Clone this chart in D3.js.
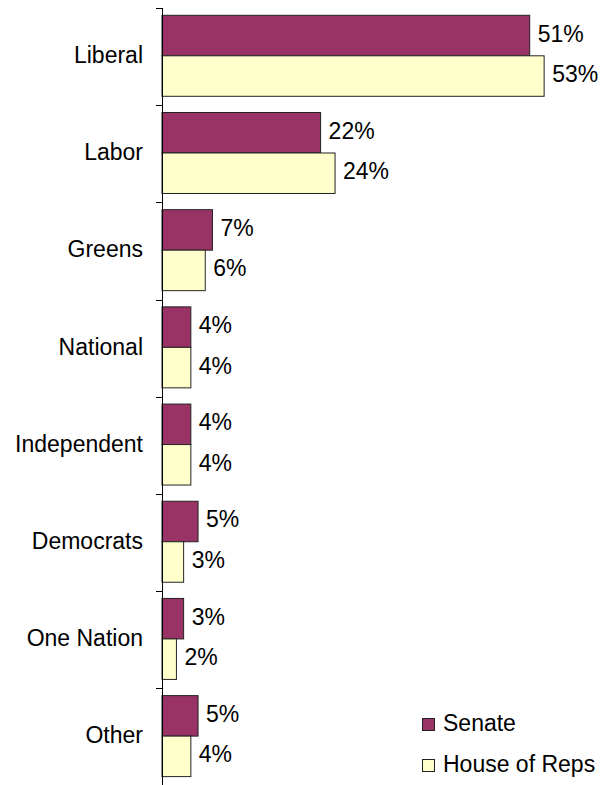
<!DOCTYPE html>
<html>
<head>
<meta charset="utf-8">
<script src="https://cdn.jsdelivr.net/npm/d3@7"></script>
<style>
  html, body { margin: 0; padding: 0; background: #fff; }
  svg { display: block; font-family: Arial, "Liberation Sans", sans-serif; }
</style>
</head>
<body>
<svg id="chart" width="602" height="785"></svg>
<script>
const categories = ["Liberal", "Labor", "Greens", "National", "Independent", "Democrats", "One Nation", "Other"];
const seriesNames = ["Senate", "House of Reps"];
const senate = [51, 22, 7, 4, 4, 5, 3, 5];
const house = [53, 24, 6, 4, 4, 3, 2, 4];
const colors = ["#993366", "#FFFFCC"];

const data = categories.map((c, i) => ({ cat: c, values: [senate[i], house[i]] }));

const svg = d3.select("#chart");
const x0 = 162;
const x = d3.scaleLinear().domain([0, 60]).range([x0, x0 + 60 * 7.21]);
const y = d3.scaleBand().domain(categories).range([8, 785.5]).padding(0);
const y1 = d3.scaleBand().domain(seriesNames).range([0, y.bandwidth()])
  .paddingInner(0).paddingOuter(0.2).align(0.42);

const fs = "23px";

const groups = svg.selectAll("g.cat").data(data).enter().append("g")
  .attr("class", "cat")
  .attr("transform", d => `translate(0,${y(d.cat)})`);

groups.selectAll("rect").data(d => d.values.map((v, j) => ({ v, s: seriesNames[j], j })))
  .enter().append("rect")
  .attr("x", x(0))
  .attr("y", d => y1(d.s) + 0.5)
  .attr("width", d => x(d.v) - x(0))
  .attr("height", y1.bandwidth())
  .attr("fill", d => colors[d.j])
  .attr("stroke", "#222")
  .attr("stroke-width", 1);

groups.selectAll("text.val").data(d => d.values.map((v, j) => ({ v, s: seriesNames[j], j })))
  .enter().append("text")
  .attr("class", "val")
  .attr("x", d => x(d.v) + 8)
  .attr("y", d => y1(d.s) + y1.bandwidth() / 2 - 1.5)
  .attr("dominant-baseline", "central")
  .attr("font-size", fs)
  .attr("fill", "#000")
  .text(d => d.v + "%");

// Category axis
const axis = d3.axisLeft(y).tickSize(0).tickPadding(0).tickFormat("");
const axG = svg.append("g").attr("transform", `translate(${x0 + 0.5},0)`).call(axis);
axG.select(".domain").attr("stroke", "#000").attr("d", `M0,${y.range()[0]}V${y.range()[1]}`);

// tick marks at band boundaries
const boundaries = categories.map(c => y(c)).concat([y.range()[1]]);
svg.append("g").selectAll("line").data(boundaries).enter().append("line")
  .attr("x1", x0 - 6).attr("x2", x0 + 0.5)
  .attr("y1", d => Math.round(d) + 0.5).attr("y2", d => Math.round(d) + 0.5)
  .attr("stroke", "#000");

// category labels
svg.append("g").selectAll("text").data(categories).enter().append("text")
  .attr("x", 143)
  .attr("y", d => y(d) + y.bandwidth() / 2 - 1.5)
  .attr("text-anchor", "end")
  .attr("dominant-baseline", "central")
  .attr("font-size", fs)
  .attr("fill", "#000")
  .text(d => d);

// legend
const legend = svg.append("g").attr("transform", "translate(422,0)");
const legY = [724, 765];
seriesNames.forEach((s, j) => {
  legend.append("rect")
    .attr("x", 0.5).attr("y", legY[j] - 6 + 0.5)
    .attr("width", 12).attr("height", 12)
    .attr("fill", colors[j]).attr("stroke", "#222");
  legend.append("text")
    .attr("x", 21).attr("y", legY[j] - 1)
    .attr("dominant-baseline", "central")
    .attr("font-size", fs)
    .text(s);
});
</script>
</body>
</html>
